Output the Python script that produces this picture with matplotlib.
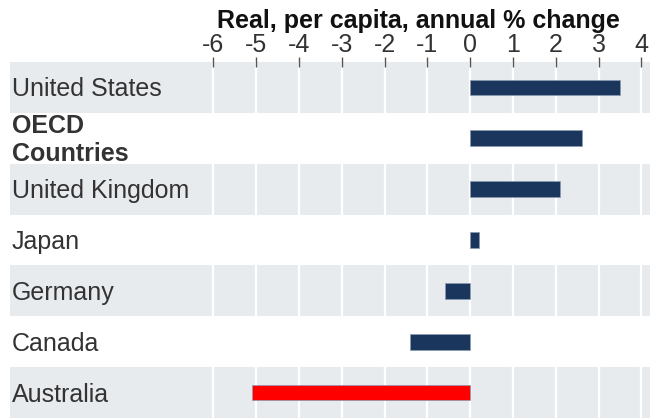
import matplotlib
matplotlib.use("Agg")
import numpy as np
from matplotlib import pyplot as plt
from matplotlib.transforms import blended_transform_factory

plt.rcParams['font.family'] = ['Liberation Sans', 'DejaVu Sans']

# data
countries = ["United States", "OECD\nCountries", "United Kingdom", "Japan",
             "Germany", "Canada", "Australia"]
growth = [3.5, 2.6, 2.1, 0.2, -0.6, -1.4, -5.1]
bold_rows = [1]
highlight = "Australia"
ticks = [-6, -5, -4, -3, -2, -1, 0, 1, 2, 3, 4]

navy = "#1B365D"
band = "#E8EBEE"
txt = "#333333"

fig = plt.figure(figsize=(6.56, 4.18), dpi=100)
ax = fig.add_axes([10 / 656, 0.0, 640 / 656, 356 / 418])

n = len(countries)
y = np.arange(n)

# alternating grey bands with white gridlines
for i in y:
    if i % 2 == 0:
        ax.axhspan(i - 0.5, i + 0.5, color=band, zorder=0, lw=0)
for t in ticks:
    ax.axvline(t, color="white", lw=1.6, zorder=1)

colors = ["#FF0000" if c == highlight else navy for c in countries]
ax.barh(y, growth, height=0.31, color=colors, edgecolor="#8A9BB3",
        linewidth=0.5, zorder=3)

ax.set_ylim(n - 0.5, -0.5)
ax.set_xlim(-10.75, 4.2)

# category labels inside the axes on the left
tr = blended_transform_factory(ax.transAxes, ax.transData)
for i, c in enumerate(countries):
    ax.text(0.003, i + 0.04, c, transform=tr, ha="left", va="center",
            fontsize=18, color=txt,
            fontweight="bold" if i in bold_rows else "normal",
            linespacing=1.2)

ax.set_yticks([])
ax.set_xticks(ticks)
ax.set_xticklabels([str(t) for t in ticks])
ax.xaxis.tick_top()
ax.tick_params(axis="x", direction="inout", length=7, width=1,
               color="#555555", labelsize=18, labelcolor=txt, pad=0)
for s in ax.spines.values():
    s.set_visible(False)

fig.text(418 / 656, 1 - 21 / 418, "Real, per capita, annual % change",
         ha="center", va="center", fontsize=18, fontweight="bold",
         color="#111111")

fig.savefig("out.png", dpi=100)
